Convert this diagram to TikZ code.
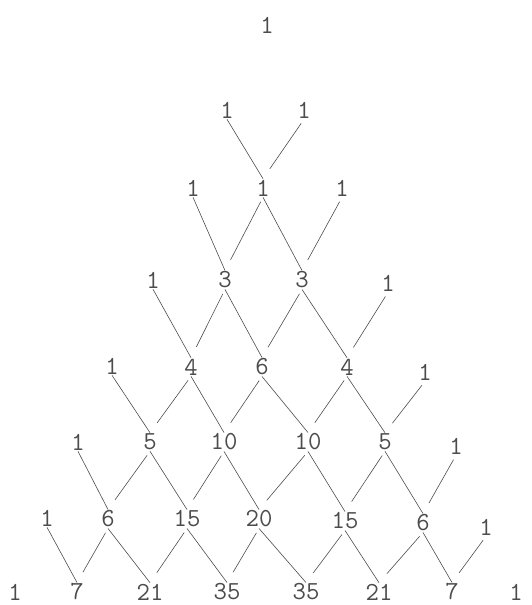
\documentclass[tikz,border=0pt]{standalone}

\begin{document}
\begin{tikzpicture}[
    x=1pt, y=-1pt,
    num/.style={text=black!70, inner sep=1pt, font=\ttfamily\fontsize{26}{30}\selectfont},
    edge/.style={draw=black!70, line width=0.6pt, shorten <=5pt, shorten >=12pt}
]
    \useasboundingbox (0,0) rectangle (531,605);

    % Row 0
    \node[num] (n00) at (267, 25) {1};

    % Row 1
    \node[num] (n10) at (227, 110) {1};
    \node[num] (n11) at (304, 110) {1};

    % Row 2
    \node[num] (n20) at (193, 188) {1};
    \node[num] (n21) at (263, 188) {1};
    \node[num] (n22) at (342, 188) {1};

    % Row 3
    \node[num] (n30) at (153, 280) {1};
    \node[num] (n31) at (225, 280) {3};
    \node[num] (n32) at (302, 280) {3};
    \node[num] (n33) at (388, 283) {1};

    % Row 4
    \node[num] (n40) at (112, 366) {1};
    \node[num] (n41) at (191, 367) {4};
    \node[num] (n42) at (262, 367) {6};
    \node[num] (n43) at (347, 367) {4};
    \node[num] (n44) at (425, 372) {1};

    % Row 5
    \node[num] (n50) at (78, 442) {1};
    \node[num] (n51) at (150, 442) {5};
    \node[num] (n52) at (224, 442) {10};
    \node[num] (n53) at (308, 442) {10};
    \node[num] (n54) at (385, 442) {5};
    \node[num] (n55) at (456, 446) {1};

    % Row 6
    \node[num] (n60) at (47, 518) {1};
    \node[num] (n61) at (108, 519) {6};
    \node[num] (n62) at (187, 519) {15};
    \node[num] (n63) at (259, 519) {20};
    \node[num] (n64) at (345, 521) {15};
    \node[num] (n65) at (423, 523) {6};
    \node[num] (n66) at (486, 527) {1};

    % Row 7
    \node[num] (n70) at (15, 592) {1};
    \node[num] (n71) at (77, 592) {7};
    \node[num] (n72) at (150, 592) {21};
    \node[num] (n73) at (227, 592) {35};
    \node[num] (n74) at (306, 592) {35};
    \node[num] (n75) at (379, 592) {21};
    \node[num] (n76) at (452, 592) {7};
    \node[num] (n77) at (516, 592) {1};

    % Edges row 1 to row 2
    \draw[edge] (n10.south) -- (n21.north) (n11.south) -- (n21.north);

    % Edges row 2 to row 3
    \draw[edge] (n20.south) -- (n31.north) (n21.south) -- (n31.north);
    \draw[edge] (n21.south) -- (n32.north) (n22.south) -- (n32.north);

    % Edges row 3 to row 4
    \draw[edge] (n30.south) -- (n41.north) (n31.south) -- (n41.north);
    \draw[edge] (n31.south) -- (n42.north) (n32.south) -- (n42.north);
    \draw[edge] (n32.south) -- (n43.north) (n33.south) -- (n43.north);

    % Edges row 4 to row 5
    \draw[edge] (n40.south) -- (n51.north) (n41.south) -- (n51.north);
    \draw[edge] (n41.south) -- (n52.north) (n42.south) -- (n52.north);
    \draw[edge] (n42.south) -- (n53.north) (n43.south) -- (n53.north);
    \draw[edge] (n43.south) -- (n54.north) (n44.south) -- (n54.north);

    % Edges row 5 to row 6
    \draw[edge] (n50.south) -- (n61.north) (n51.south) -- (n61.north);
    \draw[edge] (n51.south) -- (n62.north) (n52.south) -- (n62.north);
    \draw[edge] (n52.south) -- (n63.north) (n53.south) -- (n63.north);
    \draw[edge] (n53.south) -- (n64.north) (n54.south) -- (n64.north);
    \draw[edge] (n54.south) -- (n65.north) (n55.south) -- (n65.north);

    % Edges row 6 to row 7
    \draw[edge] (n60.south) -- (n71.north) (n61.south) -- (n71.north);
    \draw[edge] (n61.south) -- (n72.north) (n62.south) -- (n72.north);
    \draw[edge] (n62.south) -- (n73.north) (n63.south) -- (n73.north);
    \draw[edge] (n63.south) -- (n74.north) (n64.south) -- (n74.north);
    \draw[edge] (n64.south) -- (n75.north) (n65.south) -- (n75.north);
    \draw[edge] (n65.south) -- (n76.north) (n66.south) -- (n76.north);

\end{tikzpicture}
\end{document}
